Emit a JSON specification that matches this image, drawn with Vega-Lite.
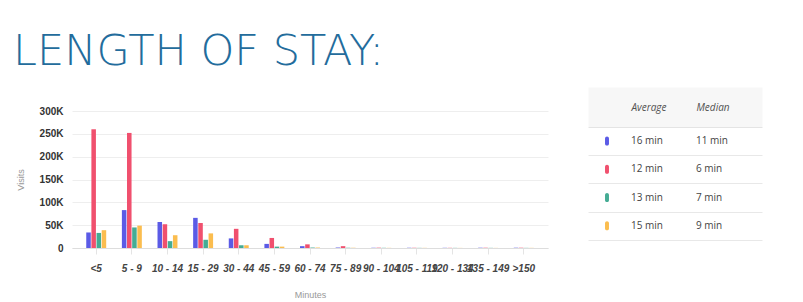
{
  "$schema": "https://vega.github.io/schema/vega-lite/v6.json",
  "padding": {"left": 13, "top": 31, "right": 5, "bottom": 0},
  "background": "white",
  "title": {"text": "LENGTH OF STAY:", "anchor": "start", "fontSize": 43, "font": "DejaVu Sans", "fontWeight": 200, "color": "#236c9c", "offset": 28, "dx": -3, "frame": "bounds"},
  "datasets": {
    "visits": [
      {"minutes": "<5", "series": "s1", "visits": 34000},
      {"minutes": "<5", "series": "s2", "visits": 260000},
      {"minutes": "<5", "series": "s3", "visits": 33000},
      {"minutes": "<5", "series": "s4", "visits": 39000},
      {"minutes": "5 - 9", "series": "s1", "visits": 83000},
      {"minutes": "5 - 9", "series": "s2", "visits": 252000},
      {"minutes": "5 - 9", "series": "s3", "visits": 45000},
      {"minutes": "5 - 9", "series": "s4", "visits": 49000},
      {"minutes": "10 - 14", "series": "s1", "visits": 57000},
      {"minutes": "10 - 14", "series": "s2", "visits": 52000},
      {"minutes": "10 - 14", "series": "s3", "visits": 15000},
      {"minutes": "10 - 14", "series": "s4", "visits": 28000},
      {"minutes": "15 - 29", "series": "s1", "visits": 66000},
      {"minutes": "15 - 29", "series": "s2", "visits": 55000},
      {"minutes": "15 - 29", "series": "s3", "visits": 18000},
      {"minutes": "15 - 29", "series": "s4", "visits": 32000},
      {"minutes": "30 - 44", "series": "s1", "visits": 21000},
      {"minutes": "30 - 44", "series": "s2", "visits": 42000},
      {"minutes": "30 - 44", "series": "s3", "visits": 6000},
      {"minutes": "30 - 44", "series": "s4", "visits": 6000},
      {"minutes": "45 - 59", "series": "s1", "visits": 9000},
      {"minutes": "45 - 59", "series": "s2", "visits": 22000},
      {"minutes": "45 - 59", "series": "s3", "visits": 3000},
      {"minutes": "45 - 59", "series": "s4", "visits": 3000},
      {"minutes": "60 - 74", "series": "s1", "visits": 4000},
      {"minutes": "60 - 74", "series": "s2", "visits": 8000},
      {"minutes": "60 - 74", "series": "s3", "visits": 1000},
      {"minutes": "60 - 74", "series": "s4", "visits": 1000},
      {"minutes": "75 - 89", "series": "s1", "visits": 1000},
      {"minutes": "75 - 89", "series": "s2", "visits": 4000},
      {"minutes": "75 - 89", "series": "s3", "visits": 500},
      {"minutes": "75 - 89", "series": "s4", "visits": 500},
      {"minutes": "90 - 104", "series": "s1", "visits": 500},
      {"minutes": "90 - 104", "series": "s2", "visits": 700},
      {"minutes": "90 - 104", "series": "s3", "visits": 400},
      {"minutes": "90 - 104", "series": "s4", "visits": 300},
      {"minutes": "105 - 119", "series": "s1", "visits": 500},
      {"minutes": "105 - 119", "series": "s2", "visits": 500},
      {"minutes": "105 - 119", "series": "s3", "visits": 300},
      {"minutes": "105 - 119", "series": "s4", "visits": 300},
      {"minutes": "120 - 134", "series": "s1", "visits": 400},
      {"minutes": "120 - 134", "series": "s2", "visits": 400},
      {"minutes": "120 - 134", "series": "s3", "visits": 300},
      {"minutes": "120 - 134", "series": "s4", "visits": 200},
      {"minutes": "135 - 149", "series": "s1", "visits": 600},
      {"minutes": "135 - 149", "series": "s2", "visits": 600},
      {"minutes": "135 - 149", "series": "s3", "visits": 300},
      {"minutes": "135 - 149", "series": "s4", "visits": 200},
      {"minutes": ">150", "series": "s1", "visits": 600},
      {"minutes": ">150", "series": "s2", "visits": 600},
      {"minutes": ">150", "series": "s3", "visits": 300},
      {"minutes": ">150", "series": "s4", "visits": 300}
    ],
    "table": [
      {"series": "s1", "Average": "16 min", "Median": "11 min"},
      {"series": "s2", "Average": "12 min", "Median": "6 min"},
      {"series": "s3", "Average": "13 min", "Median": "7 min"},
      {"series": "s4", "Average": "15 min", "Median": "9 min"}
    ]
  },
  "spacing": 40,
  "bounds": "flush",
  "hconcat": [
    {
      "width": 476,
      "height": 137,
      "data": {"name": "visits"},
      "mark": {"type": "bar"},
      "encoding": {
        "x": {
          "field": "minutes", "type": "nominal",
          "sort": ["<5", "5 - 9", "10 - 14", "15 - 29", "30 - 44", "45 - 59", "60 - 74", "75 - 89", "90 - 104", "105 - 119", "120 - 134", "135 - 149", ">150"],
          "scale": {"paddingInner": 0.44, "paddingOuter": 0.4},
          "axis": {"title": "Minutes", "labelAngle": 0, "labelFontStyle": "italic", "labelFontWeight": "bold", "labelFont": "Liberation Sans", "labelFontSize": 10, "labelColor": "#444", "labelOverlap": false, "labelPadding": 9, "tickColor": "#e4e4e4", "tickSize": 6, "domainColor": "#dddddd", "titleFont": "Liberation Sans", "titleFontSize": 9, "titleColor": "#999999", "titleFontWeight": "normal", "titlePadding": 17}
        },
        "xOffset": {"field": "series", "type": "nominal", "scale": {"paddingInner": 0.12}},
        "y": {
          "field": "visits", "type": "quantitative",
          "scale": {"domain": [0, 300000]},
          "axis": {"values": [0, 50000, 100000, 150000, 200000, 250000, 300000], "labelExpr": "datum.value == 0 ? '0' : (datum.value / 1000) + 'K'", "title": "Visits", "gridColor": "#eeeeee", "domain": false, "ticks": false, "labelPadding": 9, "labelFont": "Liberation Sans", "labelFontWeight": "bold", "labelFontSize": 10, "labelColor": "#333333", "titleFont": "Liberation Sans", "titleFontWeight": "normal", "titleColor": "#999999", "titleFontSize": 9, "titlePadding": 14}
        },
        "color": {"field": "series", "type": "nominal", "scale": {"domain": ["s1", "s2", "s3", "s4"], "range": ["#5b5be6", "#f0506e", "#45ac94", "#fbbd4f"]}, "legend": null}
      }
    },
    {
      "width": 174,
      "height": 129,
      "data": {"name": "table"},
      "layer": [
        {
          "mark": {"type": "point", "filled": true, "opacity": 1, "size": 81, "xOffset": -10, "shape": "M-0.44,-0.56 A0.44,0.44 0 0 1 0.44,-0.56 L0.44,0.56 A0.44,0.44 0 0 1 -0.44,0.56 Z"},
          "encoding": {
            "x": {"datum": "swatch", "type": "nominal",
              "scale": {"domain": ["swatch", "Average", "Median"], "paddingInner": 0, "paddingOuter": 0},
              "axis": {"orient": "top", "values": ["Average", "Median"], "labelOffset": {"condition": {"test": "datum.value == 'Average'", "value": -44}, "value": -37}, "labelAlign": "left", "labelBaseline": "middle", "labelPadding": 0, "ticks": false, "domainWidth": 40, "domainColor": "#000000", "domainOpacity": 0.03, "offset": 4, "labelFont": "Open Sans", "labelFontStyle": "italic", "labelFontSize": 10, "labelColor": "#555555", "title": null, "grid": false, "labelAngle": 0}},
            "y": {"field": "series", "type": "nominal",
              "scale": {"paddingInner": 0, "paddingOuter": 0.283, "align": 1},
              "axis": {"labels": false, "ticks": false, "domain": false, "title": null, "grid": true, "gridColor": "#e8e8e8", "tickBand": "extent"}},
            "color": {"field": "series", "type": "nominal", "legend": null}
          }
        },
        {
          "mark": {"type": "text", "align": "left", "baseline": "middle", "font": "Open Sans", "fontSize": 10, "color": "#444444", "dx": -44},
          "encoding": {
            "x": {"datum": "Average", "type": "nominal"},
            "y": {"field": "series", "type": "nominal"},
            "text": {"field": "Average", "type": "nominal"}
          }
        },
        {
          "mark": {"type": "text", "align": "left", "baseline": "middle", "font": "Open Sans", "fontSize": 10, "color": "#444444", "dx": -37},
          "encoding": {
            "x": {"datum": "Median", "type": "nominal"},
            "y": {"field": "series", "type": "nominal"},
            "text": {"field": "Median", "type": "nominal"}
          }
        }
      ]
    }
  ],
  "config": {"view": {"stroke": null}}
}
